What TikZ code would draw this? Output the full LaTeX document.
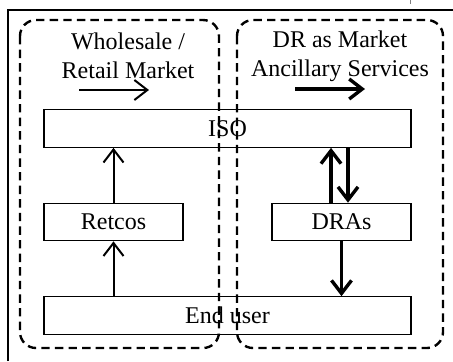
\documentclass[tikz,border=0pt]{standalone}
\usepackage{fontspec}
\setmainfont{Liberation Serif}
\usetikzlibrary{arrows.meta,positioning}

\begin{document}
\begin{tikzpicture}[x=0.5pt,y=-0.5pt,
    font={\fontsize{12}{14.5}\selectfont},
    entity/.style={
      draw=black,
      line width=0.6pt,
      fill=white,
      inner sep=0pt,
      minimum height=18.75pt
    },
    wide/.style={entity, minimum width=183.5pt},
    narrow/.style={entity, minimum width=69.5pt},
    market/.style={
      draw=black,
      line width=1.2pt,
      dash pattern=on 4.2pt off 2.6pt,
      rounded corners=8pt
    },
    mylabel/.style={align=center, inner sep=0pt},
    flow/.style={-{Straight Barb[length=6.5pt,width=10pt,line width=1pt]}, line width=1pt},
    flowthick/.style={-{Straight Barb[length=6.5pt,width=10pt,line width=1.7pt]}, line width=1.7pt}
  ]

  \useasboundingbox (0,0) rectangle (453,361);

  % frame of the page
  \draw[line width=1pt] (8,361) -- (8,10) -- (453,10);
  \draw[gray, line width=0.4pt] (410,0) -- (410,4);

  %% entities
  \node[wide]   (iso)     at (227.5,128.5) {ISO};
  \node[narrow] (retcos)  at (113.5,222)   {Retcos};
  \node[narrow] (dras)    at (341.5,222)   {DRAs};
  \node[wide]   (enduser) at (227.5,315.5) {End user};

  %% markets (drawn on top, as in the original)
  \draw[market] (20,20) rectangle (219,348);
  \draw[market] (237,20) rectangle (443,348);

  \node[mylabel] (wholesale) at (128,56) {Wholesale /\\Retail Market};
  \node[mylabel] (drmarket)  at (340,56) {DR as Market\\Ancillary Services};

  % direction arrows below the titles
  \coordinate (w-start) at (79,90);
  \coordinate (w-end)   at (149,90);
  \coordinate (d-start) at (295,89);
  \coordinate (d-end)   at (365,89);
  \draw[flow]      (w-start) -- (w-end);
  \draw[flowthick] (d-start) -- (d-end);

  %% wholesale / retail chain
  \draw[flow] (enduser.north -| retcos.south) -- (retcos.south);
  \draw[flow] (retcos.north) -- (retcos.north |- iso.south);

  %% DR chain
  \draw[flowthick] ([xshift=-5.25pt]dras.north) -- ([xshift=-5.25pt]dras.north |- iso.south);
  \draw[flowthick] ([xshift=3.25pt]dras.north |- iso.south) -- ([xshift=3.25pt]dras.north);
  \draw[flowthick] (dras.south) -- (dras.south |- enduser.north);

\end{tikzpicture}
\end{document}
